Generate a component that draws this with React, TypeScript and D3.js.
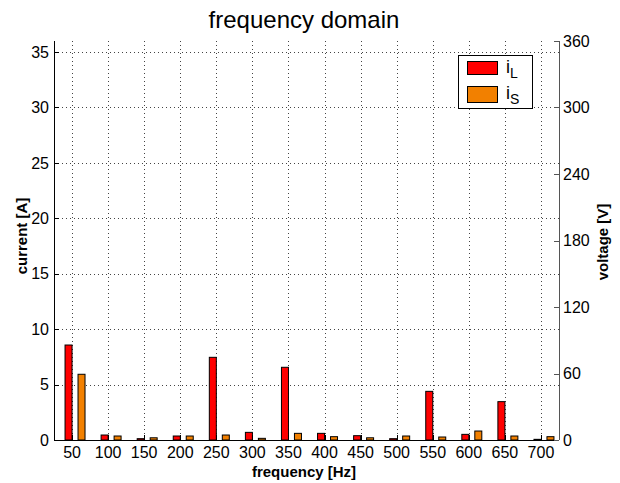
import React from "react";
import * as d3 from "d3";

const frequencies = [50, 100, 150, 200, 250, 300, 350, 400, 450, 500, 550, 600, 650, 700];
const iL = [8.57, 0.45, 0.12, 0.36, 7.46, 0.69, 6.56, 0.6, 0.39, 0.12, 4.39, 0.51, 3.46, 0.06];
const iS = [5.93, 0.36, 0.2, 0.36, 0.45, 0.15, 0.6, 0.3, 0.2, 0.36, 0.27, 0.81, 0.36, 0.3];
const leftTicks = [0, 5, 10, 15, 20, 25, 30, 35];
const rightTicks = [0, 60, 120, 180, 240, 300, 360];

const W = 620, H = 483;
const M = { left: 54, right: 559, top: 41, bottom: 440 };
const FONT = "'Liberation Sans', Arial, Helvetica, sans-serif";
const RED = "#ff0000";
const ORANGE = "#f28000";

export default function App() {
  const x = d3.scaleLinear().domain([25, 725]).range([M.left, M.right]);
  const yL = d3.scaleLinear().domain([0, 36]).range([M.bottom, M.top]);
  const yR = d3.scaleLinear().domain([0, 360]).range([M.bottom, M.top]);
  const bw = 9.7; // bar width in Hz
  const redStart = (f: number) => f - bw;
  const orangeStart = (f: number) => f + 8.3;
  const tickLen = 5;

  return (
    <svg width={W} height={H} style={{ position: "absolute", left: 0, top: 0, background: "#fff" }} fontFamily={FONT}>
      <rect x={0} y={0} width={W} height={H} fill="#fff" />
      {/* grid */}
      {frequencies.map((f) => (
        <line key={"gx" + f} x1={Math.round(x(f)) + 0.5} x2={Math.round(x(f)) + 0.5} y1={M.top} y2={M.bottom} stroke="#444" strokeWidth={1} strokeDasharray="1,3" />
      ))}
      {leftTicks.map((t) => (
        <line key={"gy" + t} x1={M.left} x2={M.right} y1={Math.round(yL(t)) + 0.5} y2={Math.round(yL(t)) + 0.5} stroke="#444" strokeWidth={1} strokeDasharray="1,3" />
      ))}
      {/* bars */}
      {frequencies.map((f, i) => (
        <g key={"b" + f}>
          <rect x={x(redStart(f))} y={yL(iL[i])} width={x(f) - x(redStart(f))} height={yL(0) - yL(iL[i])} fill={RED} stroke="#000" strokeWidth={1} />
          <rect x={x(orangeStart(f))} y={yL(iS[i])} width={x(orangeStart(f) + bw) - x(orangeStart(f))} height={yL(0) - yL(iS[i])} fill={ORANGE} stroke="#000" strokeWidth={1} />
        </g>
      ))}
      {/* axes lines */}
      <line x1={M.left + 0.5} x2={M.left + 0.5} y1={M.top} y2={M.bottom} stroke="#000" />
      <line x1={M.left} x2={M.right} y1={M.bottom + 0.5} y2={M.bottom + 0.5} stroke="#000" />
      <line x1={M.right + 0.5} x2={M.right + 0.5} y1={M.top} y2={M.bottom} stroke="#555" />
      {/* left ticks */}
      {leftTicks.map((t) => (
        <g key={"lt" + t}>
          <line x1={M.left} x2={M.left + tickLen} y1={Math.round(yL(t)) + 0.5} y2={Math.round(yL(t)) + 0.5} stroke="#000" />
          <text x={49} y={yL(t)} dy="0.35em" textAnchor="end" fontSize={16} fill="#000">{t}</text>
        </g>
      ))}
      {/* right ticks */}
      {rightTicks.map((t) => (
        <g key={"rt" + t}>
          <line x1={M.right - tickLen} x2={M.right} y1={Math.round(yR(t)) + 0.5} y2={Math.round(yR(t)) + 0.5} stroke="#555" />
          <text x={563} y={yR(t)} dy="0.35em" textAnchor="start" fontSize={16} fill="#000">{t}</text>
        </g>
      ))}
      {/* x ticks */}
      {frequencies.map((f) => (
        <g key={"xt" + f}>
          <line x1={Math.round(x(f)) + 0.5} x2={Math.round(x(f)) + 0.5} y1={M.bottom} y2={M.bottom - tickLen} stroke="#000" />
          <text x={x(f)} y={458} textAnchor="middle" fontSize={16} fill="#000">{f}</text>
        </g>
      ))}
      {/* labels */}
      <text x={304} y={477} textAnchor="middle" fontSize={15} fontWeight="bold" fill="#000">frequency [Hz]</text>
      <text transform={`translate(27,236) rotate(-90)`} textAnchor="middle" fontSize={15} fontWeight="bold" fill="#000">current [A]</text>
      <text transform={`translate(608,242) rotate(-90)`} textAnchor="middle" fontSize={15} fontWeight="bold" fill="#000">voltage [V]</text>
      <text x={304} y={28} textAnchor="middle" fontSize={24} fill="#000">frequency domain</text>
      {/* legend */}
      <g>
        <rect x={458.5} y={55.5} width={74} height={53} fill="#fff" stroke="#000" />
        <rect x={467.5} y={61.5} width={30} height={13} fill={RED} stroke="#000" />
        <rect x={467.5} y={86.5} width={30} height={16} fill={ORANGE} stroke="#000" />
        <text x={506} y={73} fontSize={18} fill="#000">i<tspan dy={5} fontSize={14}>L</tspan></text>
        <text x={506} y={99} fontSize={18} fill="#000">i<tspan dy={5} fontSize={14}>S</tspan></text>
      </g>
    </svg>
  );
}
